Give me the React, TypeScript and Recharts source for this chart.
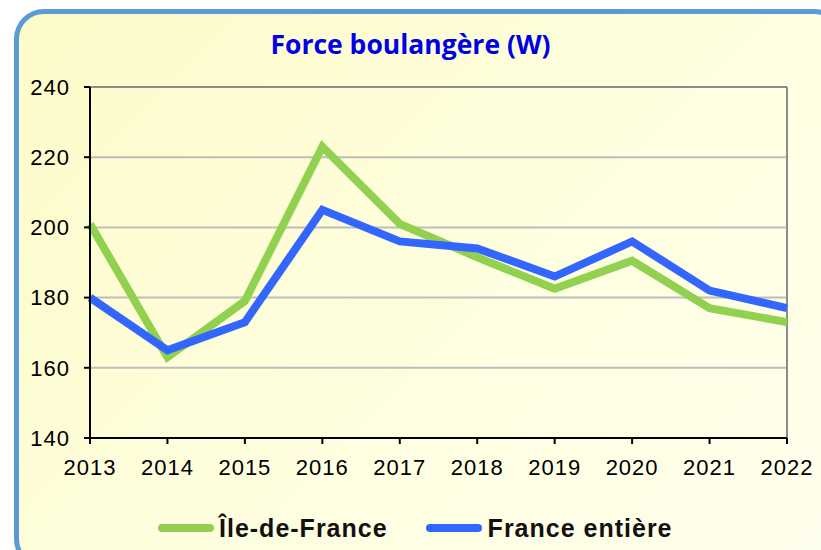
import React from 'react';
import { LineChart, Line, XAxis, YAxis, CartesianGrid, ReferenceLine } from 'recharts';

const years = ['2013', '2014', '2015', '2016', '2017', '2018', '2019', '2020', '2021', '2022'];
const ileDeFrance = [201, 163, 179, 223, 201, 191.5, 182.5, 190.5, 177, 173];
const franceEntiere = [180, 165, 173, 205, 196, 194, 186, 196, 182, 177];
const yTicks = [140, 160, 180, 200, 220, 240];

const GREEN = '#92d050';
const BLUE = '#3366ff';

const data = years.map((year, i) => ({
  year,
  idf: ileDeFrance[i],
  france: franceEntiere[i],
}));

const tickStyle = { fill: '#000', fontSize: 22, fontFamily: 'Liberation Sans, Arial, sans-serif', letterSpacing: 1 };

const App: React.FC = () => {
  return (
    <div style={{ position: 'absolute', left: 0, top: 0, width: 821, height: 550, overflow: 'hidden', background: '#fff' }}>
      <div
        style={{
          position: 'absolute',
          left: 14,
          top: 9,
          width: 830,
          height: 560,
          boxSizing: 'border-box',
          border: '5px solid #5b9bd5',
          borderRadius: 30,
          background: 'linear-gradient(135deg, #fdfbc8 0%, #fefee0 55%, #ffffee 100%)',
        }}
      />
      <div
        style={{
          position: 'absolute',
          left: 0,
          width: 821,
          top: 24,
          textAlign: 'center',
          color: '#0000e6',
          fontFamily: 'Open Sans, sans-serif',
          fontWeight: 700,
          fontSize: 26.5,
          lineHeight: '40px',
        }}
      >
        Force boulangère (W)
      </div>
      <div style={{ position: 'absolute', left: 0, top: 0 }}>
        <LineChart width={821} height={550} data={data} margin={{ top: 87, right: 34, left: 30, bottom: 82 }}>
          <CartesianGrid vertical={false} stroke="#bdbdbd" strokeWidth={2} />
          <XAxis
            dataKey="year"
            padding={{ left: 0, right: 0 }}
            axisLine={{ stroke: '#000', strokeWidth: 2 }}
            tickLine={{ stroke: '#000', strokeWidth: 2 }}
            tickSize={6}
            tickMargin={15}
            height={30}
            tick={tickStyle}
            interval={0}
          />
          <YAxis
            domain={[140, 240]}
            ticks={yTicks}
            width={60}
            axisLine={{ stroke: '#000', strokeWidth: 2 }}
            tickLine={{ stroke: '#000', strokeWidth: 2 }}
            tickSize={6}
            tickMargin={14}
            tick={tickStyle}
          />
          <ReferenceLine y={240} stroke="#8c8c8c" strokeWidth={2} />
          <ReferenceLine x="2022" stroke="#8c8c8c" strokeWidth={2} />
          <Line type="linear" dataKey="idf" stroke={GREEN} strokeWidth={8} dot={false} isAnimationActive={false} />
          <Line type="linear" dataKey="france" stroke={BLUE} strokeWidth={8} dot={false} isAnimationActive={false} />
        </LineChart>
      </div>
      <div
        style={{
          position: 'absolute',
          top: 513,
          left: 158,
          display: 'flex',
          alignItems: 'center',
          fontFamily: 'Liberation Sans, Arial, sans-serif',
          fontWeight: 700,
          fontSize: 25,
          letterSpacing: 1,
          color: '#111',
          lineHeight: '30px',
        }}
      >
        <span style={{ display: 'inline-block', width: 56, height: 8, borderRadius: 4, background: GREEN, marginRight: 5 }} />
        <span>Île-de-France</span>
        <span style={{ display: 'inline-block', width: 56, height: 8, borderRadius: 4, background: BLUE, marginLeft: 38, marginRight: 6 }} />
        <span>France entière</span>
      </div>
    </div>
  );
};

export default App;
